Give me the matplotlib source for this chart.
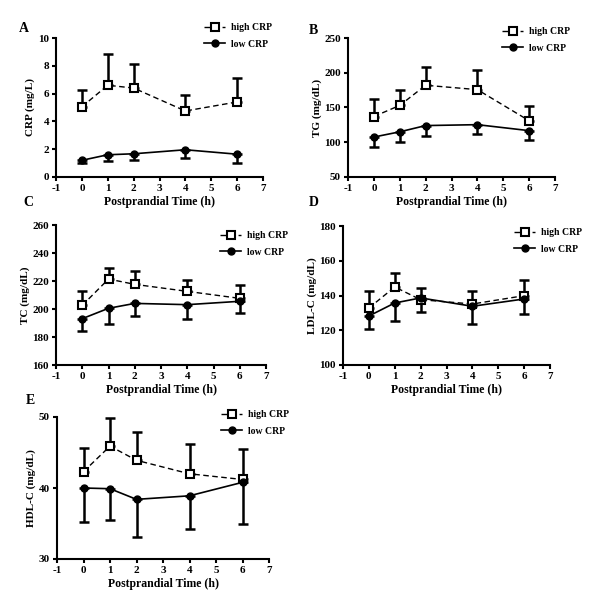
import matplotlib.pyplot as plt
import numpy as np

plt.rcParams['font.family'] = ['Liberation Serif', 'DejaVu Serif']
plt.rcParams['font.weight'] = 'bold'
plt.rcParams['axes.unicode_minus'] = False

# time points (h)
t = [0, 1, 2, 4, 6]

# A - CRP (mg/L)
crp_hi = [5.05, 6.6, 6.4, 4.75, 5.4]
crp_hi_err = [1.2, 2.25, 1.7, 1.15, 1.7]
crp_lo = [1.2, 1.6, 1.67, 1.96, 1.64]
crp_lo_err = [0.22, 0.43, 0.43, 0.6, 0.64]

# B - TG (mg/dL)
tg_hi = [137, 153, 182, 175.7, 131]
tg_hi_err = [25, 22.7, 25.8, 28.7, 20.7]
tg_lo = [107.5, 115, 124, 125.3, 116.7]
tg_lo_err = [14.3, 14.4, 15.4, 13.9, 13]

# C - TC (mg/dL)
tc_hi = [202.6, 221.4, 217.6, 212.6, 207.6]
tc_hi_err = [10.4, 7.9, 9.3, 8.1, 9.3]
tc_lo = [193.1, 200.5, 204, 203.1, 205.5]
tc_lo_err = [8.6, 11.2, 9.2, 10.5, 8.1]

# D - LDL-C (mg/dL)
ldl_hi = [132.8, 144.9, 137.6, 135.1, 139.9]
ldl_hi_err = [9.8, 8, 6.9, 7.5, 9.2]
ldl_lo = [128.2, 135.7, 138.6, 133.8, 138]
ldl_lo_err = [7.7, 10.2, 7.9, 10, 8.8]

# E - HDL-C (mg/dL)
hdl_hi = [42.3, 45.9, 43.9, 42.0, 41.2]
hdl_hi_err = [3.3, 3.95, 4.0, 4.2, 4.3]
hdl_lo = [40.0, 39.9, 38.4, 38.9, 40.8]
hdl_lo_err = [4.8, 4.4, 5.3, 4.7, 5.8]

W, H = 600, 614

panels = [
    # label, hi, hi_err, lo, lo_err, ylabel, ylim, yticks, axes px (l, t, r, b), letter px, legend px
    ('A', crp_hi, crp_hi_err, crp_lo, crp_lo_err, 'CRP (mg/L)', (0, 10), [0, 2, 4, 6, 8, 10],
     (56, 38, 263, 177), (19, 29), (204, 36)),
    ('B', tg_hi, tg_hi_err, tg_lo, tg_lo_err, 'TG (mg/dL)', (50, 250), [50, 100, 150, 200, 250],
     (348, 38, 555, 177), (309, 30), (502, 40)),
    ('C', tc_hi, tc_hi_err, tc_lo, tc_lo_err, 'TC (mg/dL)', (160, 260), [160, 180, 200, 220, 240, 260],
     (56, 225, 266, 365), (23, 203), (220, 244)),
    ('D', ldl_hi, ldl_hi_err, ldl_lo, ldl_lo_err, 'LDL-C (mg/dL)', (100, 180), [100, 120, 140, 160, 180],
     (343, 226, 550, 365), (309, 203), (514, 241)),
    ('E', hdl_hi, hdl_hi_err, hdl_lo, hdl_lo_err, 'HDL-C (mg/dL)', (30, 50), [30, 40, 50],
     (57, 417, 269, 559), (26, 400), (221, 423)),
]

fig = plt.figure(figsize=(W / 100, H / 100), dpi=100)

for lab, hi, hie, lo, loe, ylab, ylim, yt, px, lpos, legpos in panels:
    l, tp, r, b = px
    ax = fig.add_axes([l / W, 1 - b / H, (r - l) / W, (b - tp) / H])
    zeros = [0] * len(t)
    # high group: upper error only, low group: lower error only
    ax.errorbar(t, hi, yerr=[zeros, hie], fmt='none', ecolor='black',
                elinewidth=1.8, capsize=3.5, capthick=1.8, zorder=2)
    ax.errorbar(t, lo, yerr=[loe, zeros], fmt='none', ecolor='black',
                elinewidth=1.8, capsize=3.5, capthick=1.8, zorder=2)
    ax.plot(t, hi, linestyle='--', color='black', linewidth=1.0, dashes=(4, 2.5),
            marker='s', markersize=6, markerfacecolor='white',
            markeredgecolor='black', markeredgewidth=1.5, label='high CRP', zorder=3)
    ax.plot(t, lo, linestyle='-', color='black', linewidth=1.2,
            marker='o', markersize=5, markerfacecolor='black',
            markeredgecolor='black', label='low CRP', zorder=3)
    ax.set_xlim(-1, 7)
    ax.set_ylim(*ylim)
    ax.set_xticks(range(-1, 8))
    ax.set_yticks(yt)
    for s in ['top', 'right']:
        ax.spines[s].set_visible(False)
    for s in ['left', 'bottom']:
        ax.spines[s].set_linewidth(1.5)
    ax.tick_params(direction='out', width=1.5, length=3, labelsize=8, pad=2)
    for tl in ax.get_xticklabels() + ax.get_yticklabels():
        tl.set_fontweight('bold')
    ax.set_xlabel('Postprandial Time (h)', fontsize=8.5, fontweight='bold', labelpad=2.5)
    ax.set_ylabel(ylab, fontsize=8, fontweight='bold', labelpad=2)
    ax.legend(loc='center left', bbox_to_anchor=(legpos[0] / W, 1 - legpos[1] / H),
              bbox_transform=fig.transFigure, frameon=False,
              handlelength=2.2, handletextpad=0.6, labelspacing=0.75,
              borderpad=0, borderaxespad=0,
              prop={'weight': 'bold', 'size': 7})
    fig.text(lpos[0] / W, 1 - lpos[1] / H, lab, fontsize=10, fontweight='bold', va='center')

fig.savefig('out.png', dpi=100, facecolor='white')
